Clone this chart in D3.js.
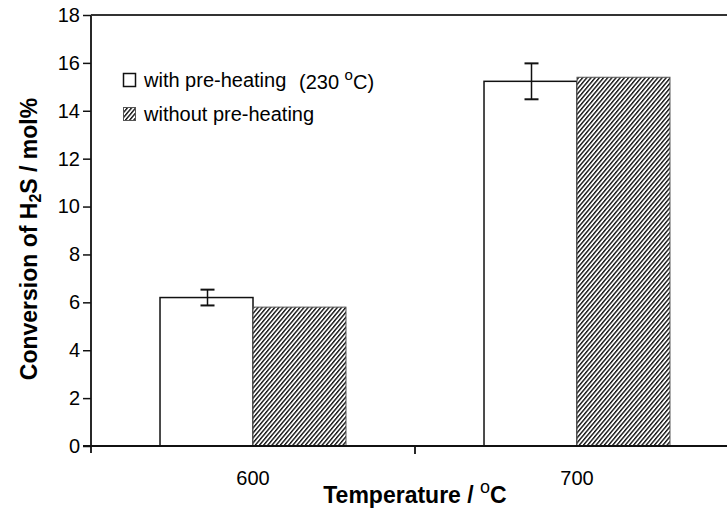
<!DOCTYPE html>
<html>
<head>
<meta charset="utf-8">
<script src="https://cdn.jsdelivr.net/npm/d3@7"></script>
<style>
  body { margin: 0; background: #fff; }
  svg { display: block; font-family: Arial, "Liberation Sans", sans-serif; }
  .tickLabel { font-size: 20px; fill: #000; }
  .axisTitle { font-size: 23px; font-weight: bold; fill: #000; }
  .legendText { font-size: 20px; fill: #000; }
</style>
</head>
<body>
<div id="chart"></div>
<script>
// chart data
var categories = ['600', '700'];
var seriesNames = ['with pre-heating', 'without pre-heating'];
var withPreheat = [6.2, 15.23];
var withPreheatErr = [0.33, 0.75];
var withoutPreheat = [5.8, 15.4];
var yTicks = [0, 2, 4, 6, 8, 10, 12, 14, 16, 18];

var width = 727, height = 512;
var margin = { top: 15, left: 91, bottom: 66 };
var plotBottom = height - margin.bottom;

var svg = d3.select('#chart').append('svg')
    .attr('width', width)
    .attr('height', height);

var defs = svg.append('defs');
var hatch = defs.append('pattern')
    .attr('id', 'hatch')
    .attr('patternUnits', 'userSpaceOnUse')
    .attr('width', 3.2)
    .attr('height', 3.2)
    .attr('patternTransform', 'rotate(40)');
hatch.append('rect').attr('width', 3.2).attr('height', 3.2).attr('fill', '#fff');
hatch.append('rect').attr('x', 0).attr('width', 1.4).attr('height', 3.2).attr('fill', '#111');

var y = d3.scaleLinear().domain([0, 18]).range([plotBottom, margin.top]);
// the chart is cut at the right edge, so the range runs past the window
var x = d3.scaleBand().domain(categories).range([margin.left, 739])
    .paddingInner(0.426).paddingOuter(0.213);
var xs = d3.scaleBand().domain(seriesNames).range([0, x.bandwidth()]);

var rows = categories.map(function (c, i) {
    return { cat: c, vals: [withPreheat[i], withoutPreheat[i]], err: withPreheatErr[i] };
});

// bars
var groups = svg.selectAll('.grp').data(rows).enter().append('g')
    .attr('class', 'grp')
    .attr('transform', function (d) { return 'translate(' + x(d.cat) + ',0)'; });

groups.append('rect')
    .attr('x', xs(seriesNames[0]))
    .attr('y', function (d) { return y(d.vals[0]); })
    .attr('width', xs.bandwidth())
    .attr('height', function (d) { return y(0) - y(d.vals[0]); })
    .attr('fill', '#fff').attr('stroke', '#111').attr('stroke-width', 1.5);

groups.append('rect')
    .attr('x', xs(seriesNames[1]))
    .attr('y', function (d) { return y(d.vals[1]); })
    .attr('width', xs.bandwidth())
    .attr('height', function (d) { return y(0) - y(d.vals[1]); })
    .attr('fill', 'url(#hatch)').attr('stroke', '#555').attr('stroke-width', 1);

// error bars
var eb = groups.append('g')
    .attr('transform', 'translate(' + (xs(seriesNames[0]) + xs.bandwidth() / 2 + 1) + ',0)');
eb.append('line')
    .attr('y1', function (d) { return y(d.vals[0] + d.err); })
    .attr('y2', function (d) { return y(d.vals[0] - d.err); })
    .attr('stroke', '#111').attr('stroke-width', 1.5);
[1, -1].forEach(function (s) {
    eb.append('line')
        .attr('x1', -7).attr('x2', 7)
        .attr('y1', function (d) { return y(d.vals[0] + s * d.err); })
        .attr('y2', function (d) { return y(d.vals[0] + s * d.err); })
        .attr('stroke', '#111').attr('stroke-width', 2);
});

// y axis
var yAxis = svg.append('g')
    .attr('transform', 'translate(' + margin.left + ',0)')
    .call(d3.axisLeft(y).tickValues(yTicks).tickSize(8).tickPadding(3).tickFormat(d3.format('d')));
yAxis.select('.domain').remove();
yAxis.selectAll('.tick line').attr('stroke', '#111').attr('stroke-width', 1.5);
yAxis.selectAll('.tick text').attr('class', 'tickLabel').style('font-size', '20px')
    .style('font-family', 'Arial, "Liberation Sans", sans-serif').attr('fill', '#000');
svg.append('line')
    .attr('x1', margin.left).attr('x2', margin.left)
    .attr('y1', y(18)).attr('y2', y(0) + 7)
    .attr('stroke', '#111').attr('stroke-width', 1.8);

// top frame line
svg.append('line')
    .attr('x1', margin.left).attr('x2', width)
    .attr('y1', y(18)).attr('y2', y(18))
    .attr('stroke', '#333').attr('stroke-width', 1.8);

// x axis
svg.append('line')
    .attr('x1', margin.left - 8).attr('x2', width)
    .attr('y1', y(0)).attr('y2', y(0))
    .attr('stroke', '#111').attr('stroke-width', 1.8);
var sep = (x(categories[0]) + x.bandwidth() + x(categories[1])) / 2;
svg.append('line')
    .attr('x1', sep).attr('x2', sep)
    .attr('y1', y(0)).attr('y2', y(0) + 8)
    .attr('stroke', '#111').attr('stroke-width', 1.8);

svg.selectAll('.xLabel').data(categories).enter().append('text')
    .attr('class', 'tickLabel')
    .attr('x', function (d) { return x(d) + x.bandwidth() / 2; })
    .attr('y', y(0) + 39)
    .attr('text-anchor', 'middle')
    .text(function (d) { return d; });

// axis titles
var xt = svg.append('text').attr('class', 'axisTitle')
    .attr('x', sep).attr('y', 503).attr('text-anchor', 'middle');
xt.append('tspan').text('Temperature / ');
xt.append('tspan').attr('dy', -10).style('font-size', '18px').style('font-weight', 'normal').text('o');
xt.append('tspan').attr('dy', 10).text('C');

var yt = svg.append('text').attr('class', 'axisTitle')
    .attr('transform', 'translate(37,' + 239 + ') rotate(-90)')
    .attr('text-anchor', 'middle');
yt.append('tspan').text('Conversion of H');
yt.append('tspan').attr('dy', 4).style('font-size', '16px').text('2');
yt.append('tspan').attr('dy', -4).text('S / mol%');

// legend
var legend = svg.append('g').attr('transform', 'translate(123,73)');
var li = legend.selectAll('.li').data(seriesNames).enter().append('g')
    .attr('transform', function (d, i) { return 'translate(0,' + i * 34 + ')'; });
li.append('rect')
    .attr('x', 0.5).attr('y', 0.5).attr('width', 12).attr('height', 13)
    .attr('fill', function (d, i) { return i === 0 ? '#fff' : 'url(#hatch)'; })
    .attr('stroke', function (d, i) { return i === 0 ? '#111' : '#555'; })
    .attr('stroke-width', function (d, i) { return i === 0 ? 1.5 : 1; });
li.append('text')
    .attr('class', 'legendText')
    .attr('x', 21).attr('y', 14)
    .text(function (d) { return d; });
var note = legend.append('text').attr('class', 'legendText').attr('x', 176).attr('y', 16);
note.append('tspan').text('(230 ');
note.append('tspan').attr('dy', -9).style('font-size', '15px').text('o');
note.append('tspan').attr('dy', 9).text('C)');
</script>
</body>
</html>
